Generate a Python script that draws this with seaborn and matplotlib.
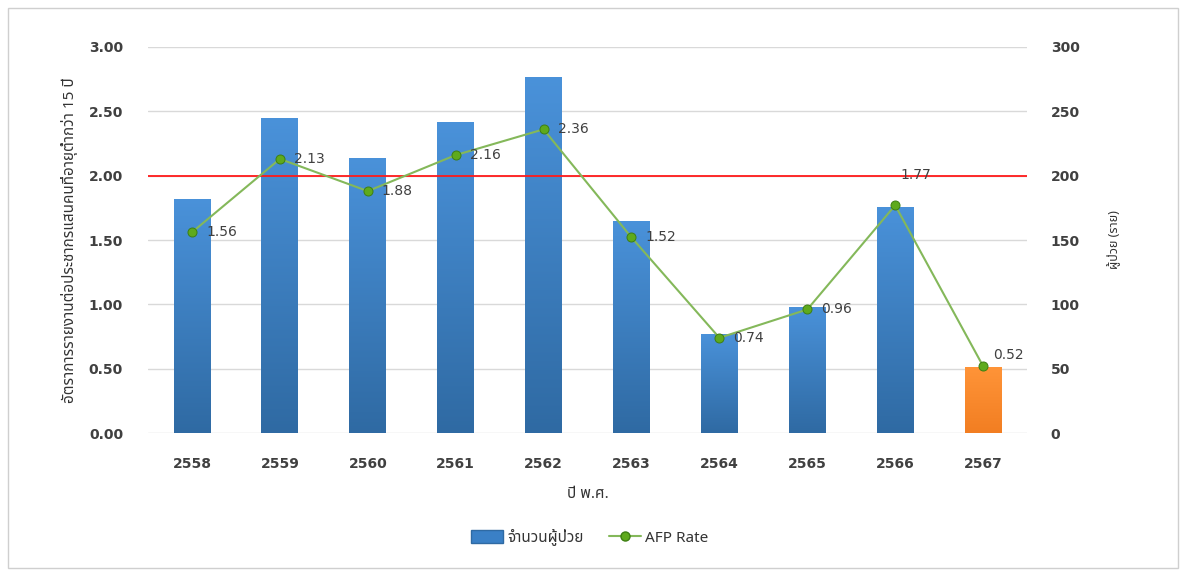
import numpy as np
import pandas as pd
import matplotlib
matplotlib.use("Agg")
import matplotlib.pyplot as plt
import seaborn as sns
from matplotlib import font_manager as fm
from matplotlib.colors import LinearSegmentedColormap
from matplotlib.lines import Line2D
from matplotlib.patches import Patch, Rectangle

# ---------------- data ----------------
years = ["2558", "2559", "2560", "2561", "2562", "2563", "2564", "2565", "2566", "2567"]
patients = [182, 245, 214, 242, 277, 165, 77, 98, 176, 51]
afp_rate = [1.56, 2.13, 1.88, 2.16, 2.36, 1.52, 0.74, 0.96, 1.77, 0.52]
target_rate = 2.0
left_ticks = [0.0, 0.5, 1.0, 1.5, 2.0, 2.5, 3.0]
right_ticks = [0, 50, 100, 150, 200, 250, 300]

bar_label = "จำนวนผู้ป่วย"
line_label = "AFP Rate"
xlabel = "ปี พ.ศ."
ylabel_left = "อัตราการรายงานต่อประชากรแสนคนที่อายุต่ำกว่า 15 ปี"
ylabel_right = "ผู้ป่วย (ราย)"

# ---------------- font detection ----------------
def find_thai_font():
    try:
        from fontTools.ttLib import TTFont
    except Exception:
        return None
    test = "จำนวนผู้ป่วยอัตรา"
    prefs = ["Tahoma", "Noto Sans Thai", "Noto Sans Thai UI", "Loma", "Garuda", "Sarabun", "Norasi", "Kinnari"]
    found = []
    for fe in fm.fontManager.ttflist:
        try:
            f = TTFont(fe.fname, fontNumber=0, lazy=True)
            cmap = f.getBestCmap()
            if cmap and all(ord(c) in cmap for c in test):
                found.append(fe.name)
        except Exception:
            continue
    if not found:
        return None
    for p in prefs:
        if p in found:
            return p
    return found[0]

sns.set_theme(style="white")
thai = find_thai_font()
latin = "DejaVu Sans"
plt.rcParams["font.family"] = [latin] + ([thai] if thai else [])
thai_family = ([thai] if thai else []) + [latin]

text_color = "#404040"

# ---------------- figure ----------------
fig = plt.figure(figsize=(11.88, 5.73), dpi=100)
ax = fig.add_axes([0.1246, 0.2443, 0.7399, 0.6737])
ax2 = ax.twinx()

df = pd.DataFrame({"year": years, "patients": patients, "rate": afp_rate})
df["pos"] = np.arange(len(df))

bar_top = ["#4A92DA"] * (len(years) - 1) + ["#FF9438"]
bar_bot = ["#2F6AA3"] * (len(years) - 1) + ["#F27E22"]
bar_mid = ["#3A80C6"] * (len(years) - 1) + ["#F98A2E"]

sns.barplot(data=df, x="year", y="patients", hue="year", palette=bar_mid,
            legend=False, width=0.42, ax=ax, saturation=1, zorder=2)

# gradient fill of bars
grad = np.linspace(0, 1, 256).reshape(-1, 1)
for patch, ct, cb in zip(ax.patches, bar_top, bar_bot):
    x0, y0 = patch.get_x(), patch.get_y()
    w, h = patch.get_width(), patch.get_height()
    cm = LinearSegmentedColormap.from_list("g", [cb, ct])
    im = ax.imshow(grad, extent=[x0, x0 + w, y0, y0 + h], origin="lower",
                   aspect="auto", cmap=cm, zorder=2.5)
    im.set_clip_path(patch)
    patch.set_edgecolor("none")

ax.set_xlim(-0.5, len(years) - 0.5)
ax.set_ylim(0, 300)
ax.set_yticks(right_ticks)
ax.set_yticklabels([str(t) for t in right_ticks])
ax.yaxis.tick_right()
ax.yaxis.set_label_position("right")
ax.set_axisbelow(True)
ax.grid(axis="y", color="#d9d9d9", linewidth=1.0, zorder=0)
ax.grid(axis="x", visible=False)

# target line + AFP rate line (on left axis)
ax2.axhline(target_rate, color="#FF1A1A", linewidth=1.3, zorder=3)
sns.lineplot(data=df, x="pos", y="rate", ax=ax2, color="#84B85A", linewidth=1.5,
             marker="o", markersize=6.5, markerfacecolor="#5EAA1C",
             markeredgecolor="#3D7F12", markeredgewidth=0.7, zorder=4)
ax2.set_ylim(0, 3)
ax2.set_yticks(left_ticks)
ax2.set_yticklabels([f"{t:.2f}" for t in left_ticks])
ax2.yaxis.tick_left()
ax2.yaxis.set_label_position("left")
ax2.set_xlim(-0.5, len(years) - 0.5)

# data labels
offsets = [(14, 0, "left", "center")] * len(afp_rate)
offsets = list(offsets)
offsets[8] = (21, 30, "center", "center")
offsets[9] = (10, 11, "left", "center")
for i, v in enumerate(afp_rate):
    dx, dy, ha, va = offsets[i]
    ax2.annotate(f"{v:.2f}", (i, v), xytext=(dx, dy), textcoords="offset pixels",
                 ha=ha, va=va, fontsize=10, color=text_color, zorder=5)

# axes styling
for a in (ax, ax2):
    for s in a.spines.values():
        s.set_visible(False)
    a.tick_params(axis="both", length=0, labelsize=10, labelcolor=text_color)
ax.tick_params(axis="y", pad=17)
ax2.tick_params(axis="y", pad=18)
ax.tick_params(axis="x", pad=17)
ax.set_xticks(np.arange(len(years)))
ax.set_xticklabels(years)
for t in ax.get_xticklabels() + ax.get_yticklabels() + ax2.get_yticklabels():
    t.set_fontweight("bold")
    t.set_color(text_color)

ax.set_xlabel(xlabel, fontsize=11, fontweight="bold", color="#333333",
              family=thai_family, labelpad=12)
ax.set_ylabel(ylabel_right, fontsize=9, fontweight="bold", color="#333333",
              family=thai_family, labelpad=20)
ax2.set_ylabel(ylabel_left, fontsize=11, fontweight="bold", color="#333333",
               family=thai_family, labelpad=8)
ax2.set_xlabel("")

# legend
handles = [Patch(facecolor="#3A80C6", edgecolor="#2F6AA3"),
           Line2D([0], [0], color="#84B85A", linewidth=1.5, marker="o", markersize=6.5,
                  markerfacecolor="#5EAA1C", markeredgecolor="#3D7F12")]
leg = fig.legend(handles, [bar_label, line_label], loc="center",
                 bbox_to_anchor=(0.4966, 0.0628), ncol=2, frameon=False,
                 handlelength=2.1, handleheight=0.9, handletextpad=0.3, columnspacing=1.6,
                 prop={"family": thai_family, "size": 11, "weight": "bold"})
for t in leg.get_texts():
    t.set_color("#333333")

# outer frame
fig.patches.append(Rectangle((8 / 1188, 5 / 573), 1170 / 1188, 560 / 573,
                             transform=fig.transFigure, fill=False,
                             edgecolor="#cfcfcf", linewidth=1.0))

fig.savefig("out.png", dpi=100)
